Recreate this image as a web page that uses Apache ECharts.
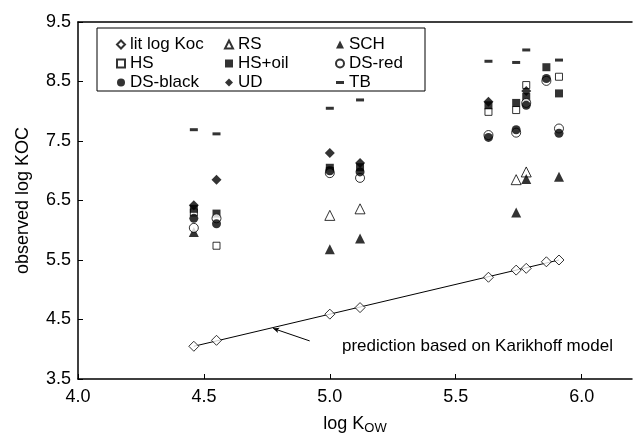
<!DOCTYPE html>
<html>
<head>
<meta charset="utf-8">
<script src="https://cdn.jsdelivr.net/npm/echarts@6/dist/echarts.min.js"></script>
<style>
  html, body { margin: 0; padding: 0; background: #fff; }
  #chart { width: 643px; height: 440px; }
</style>
</head>
<body>
<div id="chart"></div>
<script>
  // log Kow of each compound (x positions)
  const kow = [4.46, 4.55, 5.00, 5.12, 5.63, 5.74, 5.78, 5.86, 5.91]
  // observed log Koc per sorbent, null = not measured
  const litKoc = [4.05, 4.15, 4.59, 4.70, 5.21, 5.33, 5.36, 5.47, 5.50]
  const rs = [null, null, 6.25, 6.36, null, 6.85, 6.98, null, null]
  const sch = [5.97, null, 5.68, 5.86, null, 6.30, 6.86, null, 6.90]
  const hs = [6.30, 5.74, 7.00, null, 7.99, 8.02, 8.44, null, 8.58]
  const hsOil = [6.36, 6.28, 7.05, 7.06, 8.10, 8.14, 8.24, 8.74, 8.30]
  const dsRed = [6.04, 6.20, 6.96, 6.88, 7.60, 7.64, 8.14, 8.51, 7.71]
  const dsBlack = [6.20, 6.11, 7.00, 6.98, 7.56, 7.69, 8.10, 8.55, 7.63]
  const ud = [6.42, 6.85, 7.30, 7.13, 8.16, null, 8.34, null, null]
  const tb = [7.69, 7.62, 8.05, 8.19, 8.84, 8.82, 9.03, null, 8.86]

  // Karikhoff prediction line end points
  const predX = [4.46, 5.91]
  const predY = [4.05, 5.50]

  const xTicks = [4.0, 4.5, 5.0, 5.5, 6.0]
  const yTicks = [3.5, 4.5, 5.5, 6.5, 7.5, 8.5, 9.5]

  const font = 'Liberation Sans, Arial, sans-serif'

  function pairs(ys) {
    let arr = []
    for (let i = 0; i < kow.length; i++) {
      if (ys[i] !== null) arr.push([kow[i], ys[i]])
    }
    return arr
  }

  function pt(name, ys, symbol, size, filled) {
    return {
      name: name,
      type: 'scatter',
      symbol: symbol,
      symbolSize: size,
      data: pairs(ys),
      itemStyle: {
        color: filled ? '#000' : '#fff',
        borderColor: '#000',
        borderWidth: filled ? 0 : 1
      },
      z: 3
    }
  }

  const dash = 'path://M0,0H8V3H0Z'

  let myChart = echarts.init(document.getElementById('chart'))
  myChart.setOption({
    animation: false,
    textStyle: { fontFamily: font, color: '#000' },
    grid: { left: 78, right: 11, top: 22, bottom: 60 },
    xAxis: [{
      type: 'value',
      min: 4.0,
      max: 6.2,
      name: '{a|log K}{b|OW}',
      nameLocation: 'middle',
      nameGap: 34,
      nameTextStyle: {
        rich: {
          a: { fontFamily: font, fontSize: 18, color: '#000' },
          b: { fontFamily: font, fontSize: 13, color: '#000', padding: [9, 0, 0, 0] }
        }
      },
      axisLine: { lineStyle: { color: '#000', width: 1.5 } },
      axisTick: { inside: true, length: 5, customValues: xTicks, lineStyle: { color: '#000' } },
      axisLabel: {
        customValues: xTicks,
        fontSize: 18, color: '#000', fontFamily: font, margin: 9,
        formatter: v => v.toFixed(1)
      },
      splitLine: { show: false }
    }, {
      type: 'value',
      position: 'top',
      min: 4.0,
      max: 6.2,
      axisLine: { show: true, lineStyle: { color: '#000', width: 1.5 } },
      axisTick: { show: false },
      axisLabel: { show: false },
      splitLine: { show: false }
    }],
    yAxis: {
      type: 'value',
      min: 3.5,
      max: 9.5,
      name: 'observed log KOC',
      nameLocation: 'middle',
      nameGap: 46,
      nameTextStyle: { fontSize: 18, color: '#000', fontFamily: font },
      axisLine: { show: true, lineStyle: { color: '#000', width: 1.5 } },
      axisTick: { show: true, inside: true, length: 5, customValues: yTicks, lineStyle: { color: '#000' } },
      axisLabel: {
        customValues: yTicks,
        fontSize: 18, color: '#000', fontFamily: font, margin: 7,
        formatter: v => v.toFixed(1)
      },
      splitLine: { show: false }
    },
    legend: [
      { data: ['lit log Koc', 'HS', 'DS-black'], left: 111 },
      { data: ['RS', 'HS+oil', 'UD'], left: 219 },
      { data: ['SCH', 'DS-red', { name: 'TB', icon: dash }], left: 330 }
    ].map(l => Object.assign({
      orient: 'vertical',
      top: 31,
      itemWidth: 8,
      itemHeight: 8,
      itemGap: 2,
      textStyle: { fontSize: 17, color: '#000', fontFamily: font }
    }, l)),
    graphic: [
      {
        type: 'rect',
        shape: { x: 97, y: 28, width: 328, height: 63 },
        style: { fill: '#fff', stroke: '#000', lineWidth: 1 },
        z: 0
      },
      {
        type: 'text',
        left: 342,
        top: 338,
        style: { text: 'prediction based on Karikhoff model', fontSize: 17, fontFamily: font, fill: '#000' }
      }
    ],
    series: [
      {
        name: 'prediction',
        type: 'line',
        data: predX.map((x, i) => [x, predY[i]]),
        symbol: 'none',
        lineStyle: { color: '#000', width: 1 },
        z: 2,
        markLine: {
          silent: true,
          symbol: ['none', 'arrow'],
          symbolSize: [4, 6],
          label: { show: false },
          lineStyle: { color: '#000', width: 1, type: 'solid' },
          data: [[{ coord: [4.92, 4.14] }, { coord: [4.775, 4.35] }]]
        }
      },
      pt('lit log Koc', litKoc, 'diamond', 10, false),
      pt('RS', rs, 'triangle', 10, false),
      pt('SCH', sch, 'triangle', 10, true),
      pt('HS', hs, 'rect', 7, false),
      pt('HS+oil', hsOil, 'rect', 8, true),
      pt('DS-red', dsRed, 'circle', 9, false),
      pt('DS-black', dsBlack, 'circle', 9, true),
      pt('UD', ud, 'diamond', 10, true),
      pt('TB', tb, 'rect', [8, 3], true)
    ]
  })
</script>
</body>
</html>
